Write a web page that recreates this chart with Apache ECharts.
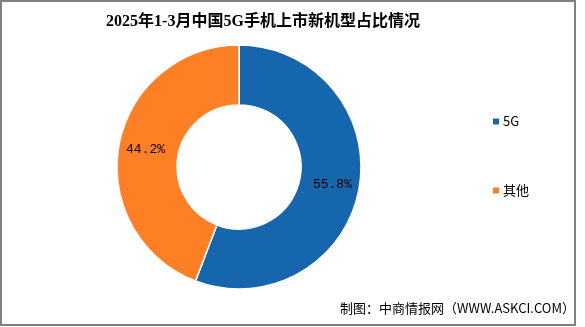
<!DOCTYPE html>
<html>
<head>
<meta charset="utf-8">
<script src="https://cdn.jsdelivr.net/npm/echarts@6/dist/echarts.min.js"></script>
<style>
  html, body { margin: 0; padding: 0; background: #fff; }
  #main { width: 585px; height: 327px; }
</style>
</head>
<body>
<div id="main"></div>
<script>
    // 数据
    var categories = ['5G', '其他'];
    var shares = [55.8, 44.2];
    var colors = ['#1666ae', '#ff7f24'];

    var titleText = '2025年1-3月中国5G手机上市新机型占比情况';
    var sourceText = '制图：中商情报网（WWW.ASKCI.COM）';

    var pieData = categories.map(function (name, i) {
        return { name: name, value: shares[i], itemStyle: { color: colors[i] } };
    });

    var chart = echarts.init(document.getElementById('main'));

    chart.setOption({
        backgroundColor: '#fff',
        animation: false,
        title: {
            text: titleText,
            left: 258,
            textAlign: 'center',
            top: 9,
            textStyle: {
                fontFamily: 'Liberation Serif, Noto Sans CJK SC',
                fontSize: 16,
                fontWeight: 'bold',
                color: '#000'
            }
        },
        legend: {
            orient: 'vertical',
            left: 486,
            top: 110,
            itemGap: 56,
            itemWidth: 8,
            itemHeight: 8,
            icon: 'rect',
            textStyle: {
                fontFamily: 'Noto Sans CJK SC',
                fontSize: 13,
                color: '#000',
                padding: [0, 0, 0, -2]
            },
            data: categories
        },
        graphic: [
            {
                type: 'rect',
                shape: { x: 1, y: 1, width: 574, height: 324 },
                style: { fill: 'none', stroke: '#808080', lineWidth: 2 },
                silent: true
            },
            {
                type: 'text',
                right: 10,
                top: 302,
                style: {
                    text: sourceText,
                    font: '13px "Noto Sans CJK SC"',
                    fill: '#000'
                }
            }
        ],
        series: [
            {
                type: 'pie',
                center: [239, 167],
                radius: [62, 122],
                startAngle: 90,
                clockwise: true,
                itemStyle: { borderColor: '#fff', borderWidth: 1.5 },
                label: {
                    position: 'inside',
                    formatter: '{c}%',
                    fontFamily: 'Liberation Mono, DejaVu Sans Mono',
                    fontSize: 13,
                    color: '#000'
                },
                labelLine: { show: false },
                data: pieData
            }
        ]
    });
</script>
</body>
</html>
